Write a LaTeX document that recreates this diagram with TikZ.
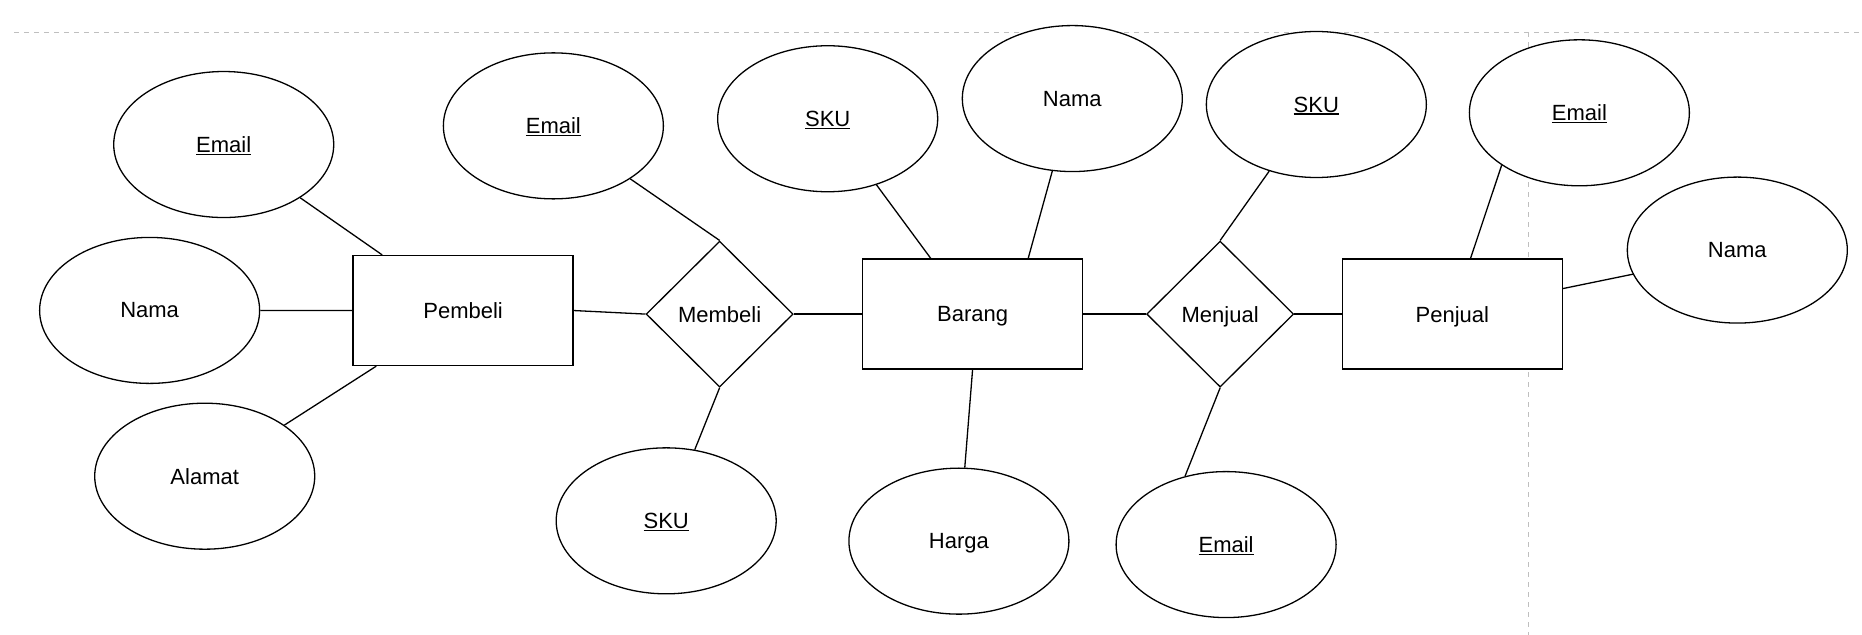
\documentclass[tikz,border=0pt]{standalone}
\usepackage{fontspec}
\setmainfont{Liberation Sans}
\usetikzlibrary{shapes.geometric,calc}
\newcommand\keyu[1]{\begingroup\setbox0\hbox{#1}\rlap{\rule[-2.4pt]{\wd0}{1.3pt}}\box0\endgroup}
\tikzset{
  base/.style={draw=black, line width=1.3pt, fill=white, inner sep=0pt, text depth=0pt,
    font=\fontsize{22pt}{26pt}\selectfont},
  attr/.style={base, ellipse, minimum width=220pt, minimum height=146pt},
  entity/.style={base, rectangle, minimum width=220pt, minimum height=110pt},
  rel/.style={base, diamond, aspect=1, minimum width=147pt, minimum height=146pt},
  link/.style={draw=black, line width=1.3pt},
  griddash/.style={draw=black!25, line width=1pt, dash pattern=on 5pt off 5pt}
}
\begin{document}
\begin{tikzpicture}[x=1.1875pt, y=-1.1875pt]
\useasboundingbox (0,0) rectangle (1568,534.7);
% background guides
\draw[griddash] (12,27.3) -- (1568,27.3);
\draw[griddash] (1287.5,27.3) -- (1287.5,534.7);
% Pembeli side
\node[attr] (em1) at (188.4,121.7) {\keyu{Email}};
\node[attr] (nm1) at (126,261.4) {Nama};
\node[attr] (al) at (172.4,401) {Alamat};
\node[entity] (pembeli) at (390,261.5) {Pembeli};
% Membeli
\node[rel] (membeli) at (606,264.5) {Membeli};
\node[attr] (em2) at (466,106) {\keyu{Email}};
\node[attr] (sku1) at (561,438.6) {\keyu{SKU}};
% Barang
\node[entity] (barang) at (819,264.5) {Barang};
\node[attr] (sku2) at (697,100) {\keyu{SKU}};
\node[attr] (nm2) at (903,83) {Nama};
\node[attr] (harga) at (807.5,455.7) {Harga};
% Menjual
\node[rel] (menjual) at (1027.5,264.5) {Menjual};
\node[attr] (sku3) at (1108.5,88) {\keyu{SKU}};
\node[attr] (em3) at (1032.5,458.6) {\keyu{Email}};
% Penjual
\node[entity] (penjual) at (1223,264.5) {Penjual};
\node[attr] (em4) at (1330,95) {\keyu{Email}};
\node[attr] (nm3) at (1463,210.6) {Nama};
% connectors
\draw[link] (em1) -- ($(pembeli.north west)+(25,0)$);
\draw[link] (nm1) -- (pembeli);
\draw[link] (al) -- ($(pembeli.south west)+(20,0)$);
\draw[link] (pembeli.east) -- (membeli.west);
\draw[link] (em2) -- (membeli.north);
\draw[link] (sku1) -- (membeli.south);
\draw[link] (membeli.east) -- (barang.west);
\draw[link] (sku2) -- ($(barang.north west)+(58,0)$);
\draw[link] (nm2) -- ($(barang.north west)+(140,0)$);
\draw[link] (harga) -- (barang.south);
\draw[link] (barang.east) -- (menjual.west);
\draw[link] (sku3) -- (menjual.north);
\draw[link] (em3.121.7) -- (menjual.south);
\draw[link] (menjual.east) -- (penjual.west);
\draw[link] (em4.214) -- ($(penjual.north west)+(108.5,0)$);
\draw[link] ($(penjual.east)+(0,-21.5)$) -- (nm3.193);
\end{tikzpicture}
\end{document}
